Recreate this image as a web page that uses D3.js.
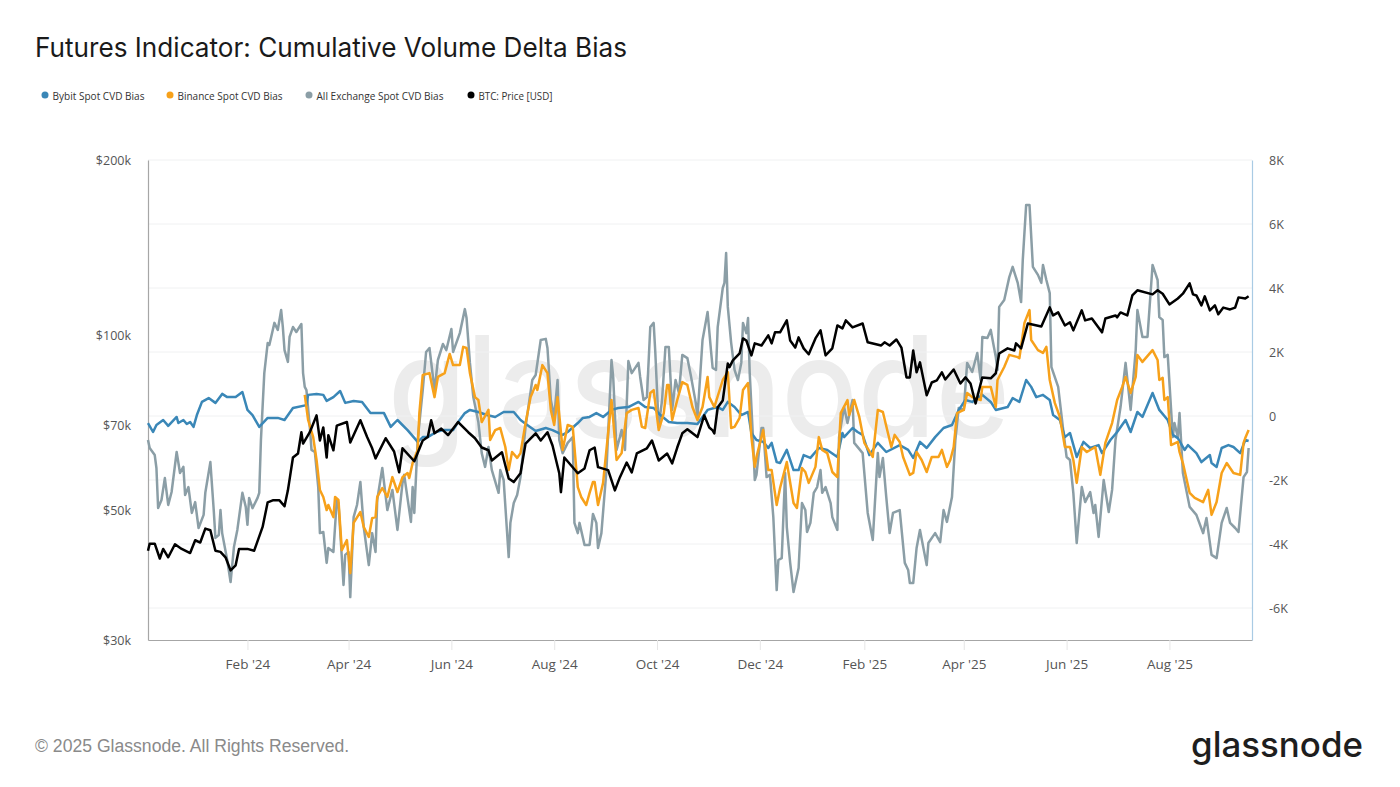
<!DOCTYPE html>
<html>
<head>
<meta charset="utf-8">
<script src="https://cdn.jsdelivr.net/npm/d3@7"></script>
<style>
  html, body { margin: 0; padding: 0; background: #fff; }
  svg { display: block; }
</style>
</head>
<body>
<svg id="chart" width="1400" height="787"></svg>
<script>
// every series is [days since firstDay, value]
const firstDay = new Date(2023, 11, 4);
const lastDay = new Date(2025, 8, 19);

const legendLabels = ["Bybit Spot CVD Bias", "Binance Spot CVD Bias", "All Exchange Spot CVD Bias", "BTC: Price [USD]"];
const monthTicks = [[2024,1],[2024,3],[2024,5],[2024,7],[2024,9],[2024,11],[2025,1],[2025,3],[2025,5],[2025,7]];
const monthLabels = ["Feb '24","Apr '24","Jun '24","Aug '24","Oct '24","Dec '24","Feb '25","Apr '25","Jun '25","Aug '25"];
const priceTicks = [30, 50, 70, 100, 200];
const biasTicks = [-6000, -4000, -2000, 0, 2000, 4000, 6000, 8000];

const bybitBias = [[0,-220],[3,-500],[5,-280],[9,-125],[12,-310],[17,-30],[18,-220],[21,-125],[23,-250],[25,-190],[27,-340],[29,30],[32,440],[36,560],[40,410],[44,690],[47,590],[52,590],[56,750],[59,190],[62,30],[66,-340],[71,-60],[77,-60],[81,-125],[86,250],[94,340],[95,660],[100,690],[104,660],[106,470],[110,590],[114,780],[117,410],[122,470],[127,440],[132,90],[136,90],[140,90],[144,-340],[148,-125],[154,-440],[160,-810],[163,-660],[166,-660],[171,-500],[175,-440],[181,-440],[184,-190],[188,90],[191,190],[196,125],[201,30],[206,-30],[211,125],[217,125],[221,-125],[225,-280],[230,-470],[236,-375],[240,-440],[246,-590],[249,-500],[255,-220],[258,-60],[262,-30],[266,90],[270,-30],[275,190],[279,250],[285,280],[291,440],[295,280],[300,250],[304,30],[309,-190],[314,-220],[320,-220],[326,-250],[332,190],[338,280],[341,190],[344,440],[348,280],[352,30],[356,125],[358,-530],[361,-750],[365,-810],[368,-1000],[370,-840],[373,-1440],[375,-1470],[379,-1060],[383,-1690],[386,-1690],[389,-1220],[393,-1310],[398,-1000],[403,-1060],[409,-1280],[412,-530],[413,-660],[418,-375],[421,-500],[424,-590],[428,-1220],[433,-840],[438,-1125],[446,-910],[451,-1060],[454,-1310],[458,-810],[462,-1000],[467,-660],[472,-375],[477,-280],[481,190],[485,500],[489,440],[495,660],[500,440],[503,190],[510,280],[513,560],[517,440],[521,1125],[524,910],[527,590],[531,660],[535,500],[537,30],[541,-125],[544,-660],[547,-530],[551,-1280],[555,-810],[559,-1000],[564,-910],[566,-1160],[571,-750],[575,-500],[580,-125],[583,-500],[587,125],[590,-30],[596,720],[600,190],[605,-125],[608,-590],[611,-690],[615,-1060],[617,-910],[622,-1160],[625,-1440],[630,-1220],[631,-1470],[634,-1590],[637,-1000],[641,-910],[644,-970],[648,-1160],[651,-750],[653,-780]];

const binanceBias = [[93,660],[95,-125],[98,-660],[100,-1375],[102,-2310],[104,-2530],[106,-2940],[107,-2780],[110,-3160],[111,-2530],[113,-2625],[115,-4190],[118,-3875],[120,-4910],[122,-3340],[126,-3000],[128,-3470],[131,-3780],[133,-3190],[135,-3160],[136,-2530],[139,-2250],[142,-2530],[145,-1910],[148,-2375],[151,-1910],[154,-1780],[155,-1940],[157,-1470],[160,-1060],[161,90],[163,1280],[167,1340],[170,590],[172,1220],[176,1340],[179,1940],[181,1590],[185,1590],[187,2160],[189,2125],[191,1340],[194,590],[196,500],[198,-190],[202,190],[203,-750],[206,-440],[209,-375],[212,-970],[214,-1690],[216,-1125],[219,-1310],[221,-1160],[224,-220],[227,590],[230,970],[231,810],[234,1590],[237,1340],[239,190],[241,-280],[243,590],[246,-1060],[249,-280],[252,-340],[255,-2220],[257,-2530],[260,-2780],[262,-2400],[264,-2060],[265,-2060],[267,-2780],[270,-2090],[275,500],[278,-1375],[281,-1160],[284,90],[287,190],[291,250],[293,-340],[295,-375],[298,720],[300,810],[303,-440],[306,90],[308,970],[309,970],[311,-125],[314,500],[317,1060],[320,970],[323,280],[326,-125],[329,280],[332,1220],[333,590],[336,280],[341,1125],[344,1375],[346,-375],[348,-340],[351,-60],[353,810],[356,1030],[358,-660],[360,-1590],[361,-1280],[365,-440],[368,-1690],[370,-1690],[373,-2780],[375,-2250],[379,-1440],[383,-2720],[385,-2875],[388,-1625],[390,-1750],[392,-2090],[396,-1590],[398,-660],[400,-1060],[403,-1160],[406,-1750],[409,-1910],[411,90],[415,500],[416,30],[419,500],[422,-30],[425,-840],[430,-1280],[433,190],[436,125],[439,-530],[441,-970],[443,-590],[446,-810],[448,-1280],[452,-1840],[454,-1780],[456,-1125],[459,-1375],[462,-1750],[465,-1280],[469,-1280],[471,-1060],[474,-1590],[476,-1375],[478,-970],[480,90],[484,190],[486,720],[489,590],[494,500],[495,910],[500,910],[503,280],[504,1125],[508,1530],[511,1910],[516,1840],[517,1810],[520,2910],[523,3310],[524,2375],[528,2060],[531,1970],[533,2160],[535,1125],[538,410],[541,-30],[544,-970],[547,-970],[549,-1375],[551,-2090],[554,-970],[557,-1125],[562,-970],[565,-1840],[568,-840],[572,-220],[575,500],[578,910],[580,1220],[583,720],[586,1220],[587,1910],[590,1690],[596,2060],[599,1750],[600,1125],[602,1190],[603,500],[605,590],[607,-910],[611,-810],[612,-1125],[614,-1470],[618,-2400],[621,-2560],[626,-2690],[629,-2310],[631,-3090],[634,-2690],[637,-1780],[640,-1470],[644,-1780],[648,-1840],[650,-840],[651,-690],[653,-440]];

const allExchangeBias = [[0,-750],[1,-1000],[4,-1220],[5,-1625],[6,-2875],[8,-2625],[10,-1940],[12,-2780],[14,-2375],[17,-1125],[19,-1780],[21,-1590],[22,-2470],[24,-2220],[26,-3030],[28,-2690],[30,-3500],[33,-3090],[34,-2400],[37,-1440],[39,-2940],[40,-3810],[42,-3720],[43,-2940],[44,-3660],[47,-4500],[49,-5190],[51,-4090],[53,-3560],[56,-2400],[58,-2840],[59,-3400],[60,-2560],[62,-2880],[65,-2560],[66,-2400],[67,-750],[69,1340],[71,2280],[72,2220],[75,2910],[77,2690],[79,3310],[80,2780],[81,2060],[83,1690],[84,2470],[86,2780],[88,2625],[91,2875],[92,1340],[93,910],[94,810],[96,-340],[97,-1060],[99,-1125],[101,-2220],[102,-3660],[104,-3625],[106,-4590],[107,-4125],[110,-4250],[112,-2625],[113,-2720],[116,-5280],[117,-4340],[119,-4250],[120,-5660],[122,-3160],[124,-2780],[126,-2060],[128,-3470],[131,-4660],[133,-3660],[135,-4250],[136,-2625],[139,-1625],[142,-2940],[145,-2310],[148,-3560],[151,-2090],[152,-1840],[156,-3310],[157,-2220],[158,-3030],[160,-750],[163,810],[165,2000],[167,2125],[170,810],[172,1750],[175,2250],[177,2060],[180,2720],[181,2000],[185,2590],[188,3340],[189,3060],[191,1660],[193,590],[196,-190],[198,-1160],[200,-1590],[202,-970],[204,-1690],[208,-2400],[209,-1690],[211,-2000],[214,-4410],[215,-3340],[217,-2720],[219,-2470],[221,-1910],[224,-340],[228,1125],[230,1280],[233,2375],[236,2410],[237,2125],[239,500],[241,-30],[243,1125],[244,-750],[246,-1160],[249,-840],[252,-660],[253,-3340],[255,-3660],[256,-3340],[259,-4030],[262,-4030],[264,-3060],[266,-3340],[267,-4125],[269,-3660],[272,-1690],[275,1750],[276,1220],[278,-1060],[281,-440],[283,-1060],[285,1720],[287,1340],[291,1660],[292,1220],[294,500],[296,590],[298,2780],[300,2910],[301,1970],[303,-340],[305,500],[307,2160],[309,2160],[311,190],[313,1125],[315,720],[317,1910],[320,1810],[322,1280],[325,410],[326,-30],[329,2375],[332,3250],[334,2060],[335,1500],[337,1440],[338,2780],[341,4000],[342,4160],[343,5090],[344,3410],[346,2280],[348,1440],[350,1125],[352,1660],[353,2910],[355,2590],[356,3060],[357,1340],[359,-750],[360,-2000],[361,-1840],[364,-375],[365,-375],[367,-1910],[369,-1840],[371,-3160],[373,-5440],[374,-4500],[376,-4440],[378,-1780],[379,-3470],[381,-4590],[383,-5500],[386,-4750],[388,-2720],[390,-2940],[391,-3625],[393,-3340],[395,-2400],[397,-2220],[399,-1690],[400,-2400],[402,-2220],[405,-2720],[406,-3160],[409,-3560],[410,-660],[413,280],[415,-220],[418,500],[419,-840],[424,-1160],[427,-3030],[430,-3875],[433,-1160],[434,-1910],[436,-1310],[438,-2530],[440,-3660],[442,-3030],[446,-2940],[449,-4590],[451,-4810],[452,-5220],[454,-5220],[456,-4125],[458,-3560],[462,-4660],[463,-3970],[467,-3660],[470,-3940],[472,-2940],[474,-3310],[477,-2530],[479,-750],[481,250],[484,190],[486,1660],[489,1375],[492,1970],[494,1125],[495,2470],[498,2440],[500,2690],[503,1840],[504,1440],[505,3410],[508,3625],[511,4340],[513,4660],[516,4160],[518,3560],[519,4875],[521,6590],[523,6590],[525,4660],[528,4410],[530,4160],[531,4720],[533,4250],[535,3840],[536,1530],[540,910],[543,-440],[545,-1280],[547,-1375],[549,-2400],[551,-3970],[554,-2220],[556,-2690],[559,-2375],[561,-3030],[562,-2780],[564,-3780],[567,-2000],[570,-3000],[572,-2310],[574,-750],[577,280],[580,1660],[583,190],[586,2060],[587,3310],[590,2470],[593,2470],[596,4720],[599,4250],[600,3090],[602,3000],[603,1840],[605,1910],[608,-660],[609,-220],[611,-660],[612,90],[614,-1780],[618,-2840],[622,-3090],[626,-3660],[628,-3190],[631,-4340],[634,-4440],[637,-3340],[640,-2875],[642,-3340],[645,-3500],[647,-3625],[650,-1910],[652,-1750],[653,-1000]];

// BTC price in thousands of USD
const btcPrice = [[0,42.7],[1,43.9],[4,43.9],[7,41.4],[9,43.0],[12,41.6],[16,43.8],[20,43.0],[25,42.3],[28,44.5],[31,44.1],[34,46.6],[37,46.3],[40,42.7],[43,42.5],[46,41.6],[49,39.5],[52,40.3],[54,43.0],[59,43.0],[63,42.7],[68,46.9],[71,51.7],[74,52.1],[78,52.1],[81,50.9],[83,54.2],[86,61.7],[89,62.7],[91,68.2],[92,65.2],[96,68.2],[100,72.9],[102,66.0],[104,69.5],[106,61.7],[107,67.4],[110,63.5],[112,70.0],[118,71.0],[120,65.5],[126,71.5],[130,66.9],[133,64.0],[135,61.5],[141,66.6],[146,63.2],[149,58.2],[151,64.0],[158,60.8],[163,66.0],[166,66.9],[168,71.5],[170,67.9],[174,69.2],[178,67.4],[184,71.0],[190,68.2],[194,66.6],[198,64.2],[202,63.5],[204,61.0],[210,63.0],[214,56.8],[217,56.0],[221,58.0],[224,65.2],[230,67.9],[233,66.0],[237,68.2],[240,64.7],[244,58.0],[245,53.8],[247,61.7],[255,58.0],[259,59.1],[262,63.5],[265,64.2],[267,59.4],[273,58.7],[277,54.2],[280,57.1],[284,60.5],[287,58.2],[290,62.7],[296,64.0],[299,66.0],[303,61.0],[308,62.7],[311,60.3],[314,64.2],[317,67.9],[320,69.0],[326,66.9],[330,72.9],[333,69.5],[335,68.7],[336,67.9],[338,75.2],[341,77.3],[344,89.5],[345,88.2],[347,90.6],[351,93.1],[353,98.8],[355,98.0],[358,92.4],[360,96.9],[364,96.1],[368,100],[370,96.9],[372,101.2],[375,101.2],[379,106.1],[381,98.0],[384,95.3],[386,99.2],[389,95.0],[392,92.8],[396,98.8],[399,102],[402,92.4],[406,95.0],[409,104],[412,102.8],[414,106.1],[418,103.2],[424,104.8],[427,97.3],[435,96.1],[437,97.3],[440,96.1],[444,98.4],[447,95.3],[450,84.7],[452,84.7],[454,94.2],[456,86.4],[458,89.9],[462,78.9],[465,83.0],[468,83.7],[471,86.4],[473,84.0],[478,87.4],[482,82.7],[485,84.7],[488,82.7],[491,76.4],[495,84.7],[500,84.4],[503,86.1],[505,93.1],[510,95.0],[514,94.2],[515,96.9],[518,95.0],[522,104.8],[530,103.6],[535,111.7],[537,108.2],[540,109.5],[544,104],[547,105.3],[549,102],[554,110.4],[556,106.1],[560,106.9],[566,101.2],[568,106.9],[574,108.2],[575,107.4],[577,109.5],[581,108.2],[584,117.1],[587,119.5],[596,117.6],[599,119.5],[602,117.9],[606,113.0],[611,115.7],[614,117.9],[618,122.8],[620,117.6],[622,117.1],[625,112.6],[627,116.7],[630,110.4],[633,112.6],[635,108.7],[638,111.6],[642,110.8],[645,111.6],[647,116.2],[651,115.7],[653,116.7]];

const svg = d3.select("#chart");
const left = 148, right = 1252, top_ = 160, bottom = 640;
const bodyFont = "'Open Sans', sans-serif";

const xScale = d3.scaleTime().domain([firstDay, lastDay]).range([left, right]);
const priceScale = d3.scaleLog().domain([30, 200]).range([bottom, top_]);
const biasScale = d3.scaleLinear().domain([-7000, 8000]).range([bottom, top_]);

const toDate = d => d3.timeDay.offset(firstDay, d[0]);
const biasLine = d3.line().x(d => xScale(toDate(d))).y(d => biasScale(d[1]));
const priceLine = d3.line().x(d => xScale(toDate(d))).y(d => priceScale(d[1]));

// title
svg.append("text").attr("x", 35).attr("y", 57)
  .attr("font-family", "Inter, sans-serif").attr("font-size", 26.5).attr("fill", "#1a1a1a")
  .attr("textLength", 592).attr("lengthAdjust", "spacingAndGlyphs")
  .text("Futures Indicator: Cumulative Volume Delta Bias");

// legend
const legendColors = ["#3a87b7", "#f7a11a", "#8b9ea6", "#000000"];
const legendDotX = [45, 170, 309, 471];
const legendWidths = [92, 105, 127, 74];
legendLabels.forEach(function(label, i) {
  svg.append("circle").attr("cx", legendDotX[i]).attr("cy", 95).attr("r", 3.5).attr("fill", legendColors[i]);
  svg.append("text").attr("x", legendDotX[i] + 7.5).attr("y", 99.5)
    .attr("font-family", bodyFont).attr("font-size", 11.5).attr("fill", "#333")
    .attr("textLength", legendWidths[i]).attr("lengthAdjust", "spacingAndGlyphs")
    .text(label);
});

// watermark sits behind everything
svg.append("text").attr("x", 388).attr("y", 437)
  .attr("font-family", "Inter, sans-serif").attr("font-size", 140).attr("font-weight", 500).attr("fill", "#ececec")
  .attr("textLength", 622).attr("lengthAdjust", "spacingAndGlyphs")
  .text("glassnode");

// gridlines from the right axis
svg.append("g").selectAll("line").data(biasTicks).enter().append("line")
  .attr("x1", left).attr("x2", right)
  .attr("y1", d => biasScale(d)).attr("y2", d => biasScale(d))
  .attr("stroke", "#f0f1f2").attr("stroke-width", 1);

const xAxis = d3.axisBottom(xScale)
  .tickValues(monthTicks.map(m => new Date(m[0], m[1], 1)))
  .tickFormat((d, i) => monthLabels[i])
  .tickSizeInner(10).tickSizeOuter(0).tickPadding(9);
const leftAxis = d3.axisLeft(priceScale)
  .tickValues(priceTicks).tickFormat(d => "$" + d + "k").tickSize(0).tickPadding(17);
const rightAxis = d3.axisRight(biasScale)
  .tickValues(biasTicks).tickFormat(d => d === 0 ? "0" : (d / 1000) + "K").tickSize(0).tickPadding(17);

function styleAxis(g, domainColor, fontSize) {
  g.select(".domain").attr("stroke", domainColor).attr("stroke-width", 1.2);
  g.selectAll(".tick line").attr("stroke", "#e6e6e6");
  g.selectAll("text").attr("font-family", bodyFont).attr("font-size", fontSize).attr("fill", "#555");
}

svg.append("g").attr("transform", "translate(0," + bottom + ")").call(xAxis).call(styleAxis, "#a6a6a6", 13.5);
svg.append("g").attr("transform", "translate(" + left + ",0)").call(leftAxis).call(styleAxis, "#a6a6a6", 12.5);
svg.append("g").attr("transform", "translate(" + right + ",0)").call(rightAxis).call(styleAxis, "#a9cbe4", 12.5);

// series, grey at the back and price on top
const lines = svg.append("g").attr("fill", "none").attr("stroke-width", 2.5).attr("stroke-linejoin", "round");
lines.append("path").attr("d", biasLine(allExchangeBias)).attr("stroke", legendColors[2]);
lines.append("path").attr("d", biasLine(bybitBias)).attr("stroke", legendColors[0]);
lines.append("path").attr("d", biasLine(binanceBias)).attr("stroke", legendColors[1]);
lines.append("path").attr("d", priceLine(btcPrice)).attr("stroke", legendColors[3]);

// footer
svg.append("text").attr("x", 35).attr("y", 752)
  .attr("font-family", "'Liberation Sans', Arial, sans-serif").attr("font-size", 17.6).attr("fill", "#8a8a8a")
  .text("© 2025 Glassnode. All Rights Reserved.");
svg.append("text").attr("x", 1191).attr("y", 757)
  .attr("font-family", "Inter, sans-serif").attr("font-size", 35).attr("font-weight", 500).attr("fill", "#1e1e1e")
  .attr("textLength", 172).attr("lengthAdjust", "spacingAndGlyphs")
  .text("glassnode");
</script>
</body>
</html>
